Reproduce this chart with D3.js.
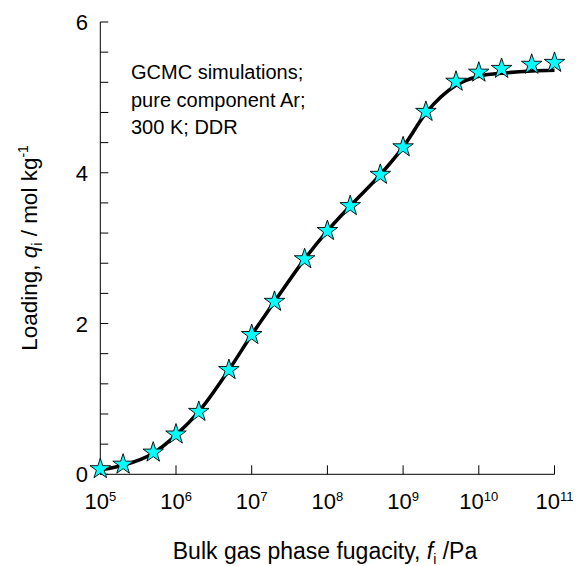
<!DOCTYPE html>
<html>
<head>
<meta charset="utf-8">
<script src="https://cdn.jsdelivr.net/npm/d3@7"></script>
<style>
  html, body { margin: 0; padding: 0; background: #fff; }
  svg { display: block; }
  text { font-family: "Liberation Sans", Arial, sans-serif; fill: #000; }
</style>
</head>
<body>
<svg id="chart" width="578" height="566"></svg>
<script>
// ---- data ----
const fugacity = [1e5, 2e5, 5e5, 1e6, 2e6, 5e6, 1e7, 2e7, 5e7, 1e8, 2e8, 5e8, 1e9, 2e9, 5e9, 1e10, 2e10, 5e10, 1e11];
const loadingGCMC = [0.07, 0.13, 0.29, 0.53, 0.83, 1.385, 1.85, 2.29, 2.855, 3.23, 3.56, 3.975, 4.34, 4.81, 5.21, 5.33, 5.38, 5.435, 5.46];
const loadingFit = [0.06, 0.12, 0.28, 0.52, 0.83, 1.385, 1.85, 2.29, 2.855, 3.23, 3.56, 3.975, 4.34, 4.79, 5.16, 5.28, 5.32, 5.35, 5.36];
const xTickExps = [5, 6, 7, 8, 9, 10, 11];
const yMajorTicks = [0, 2, 4, 6];
const yMinorTicks = d3.range(0, 6.0001, 0.4);
const annotation = ["GCMC simulations;", "pure component Ar;", "300 K; DDR"];

// ---- layout ----
const svg = d3.select("#chart");
const pL = 100.3, pR = 554.5, pT = 22, pB = 474.3;
const x = d3.scaleLog().domain([1e5, 1e11]).range([pL, pR]);
const y = d3.scaleLinear().domain([0, 6]).range([pB, pT]);

// axes lines
svg.append("line").attr("x1", pL).attr("x2", pL).attr("y1", pT).attr("y2", pB)
  .attr("stroke", "#000").attr("stroke-width", 1);
svg.append("line").attr("x1", pL).attr("x2", pR).attr("y1", pB).attr("y2", pB)
  .attr("stroke", "#000").attr("stroke-width", 1);

// y ticks (inward)
svg.append("g").selectAll("line").data(yMinorTicks).join("line")
  .attr("x1", pL).attr("x2", pL + 8)
  .attr("y1", d => y(d)).attr("y2", d => y(d))
  .attr("stroke", "#000").attr("stroke-width", 1);
svg.append("g").selectAll("text").data(yMajorTicks).join("text")
  .attr("x", 88).attr("y", d => y(d) + 8)
  .attr("text-anchor", "end").style("font-size", "22px")
  .text(d => d);

// x ticks (inward)
svg.append("g").selectAll("line").data(xTickExps).join("line")
  .attr("x1", d => x(Math.pow(10, d))).attr("x2", d => x(Math.pow(10, d)))
  .attr("y1", pB).attr("y2", pB - 9)
  .attr("stroke", "#000").attr("stroke-width", 1);
const xl = svg.append("g").selectAll("text").data(xTickExps).join("text")
  .attr("x", d => x(Math.pow(10, d))).attr("y", 508.5)
  .attr("text-anchor", "middle")
  .style("font-size", "22px");
xl.append("tspan").text("10");
xl.append("tspan").attr("dy", -7.6).style("font-size", "13px").text(d => d);

// fit curve
const line = d3.line()
  .x((d, i) => x(fugacity[i]))
  .y(d => y(d))
  .curve(d3.curveMonotoneX);
svg.append("path").datum(loadingFit)
  .attr("d", line).attr("fill", "none")
  .attr("stroke", "#000").attr("stroke-width", 3.5);

// stars
const star = d3.symbol().type(d3.symbolStar).size(131);
svg.append("g").selectAll("path").data(loadingGCMC).join("path")
  .attr("d", star)
  .attr("transform", (d, i) => `translate(${x(fugacity[i])},${y(d)})`)
  .attr("fill", "#00ffff").attr("stroke", "#000").attr("stroke-width", 0.9);

// annotation
svg.append("g").selectAll("text").data(annotation).join("text")
  .attr("x", 131).attr("y", (d, i) => 79 + i * 27.5)
  .style("font-size", "20px").text(d => d);

// x title
const xt = svg.append("text").attr("x", 325).attr("y", 559)
  .attr("text-anchor", "middle").style("font-size", "23px");
xt.append("tspan").text("Bulk gas phase fugacity, ");
xt.append("tspan").style("font-style", "italic").text("f");
xt.append("tspan").attr("dy", 5).style("font-size", "14px").text("i");
xt.append("tspan").attr("dy", -5).text(" /Pa");

// y title
const yt = svg.append("text")
  .attr("transform", "translate(37,248) rotate(-90)")
  .attr("text-anchor", "middle").style("font-size", "22.5px");
yt.append("tspan").text("Loading, ");
yt.append("tspan").style("font-style", "italic").text("q");
yt.append("tspan").attr("dy", 5).style("font-size", "14px").text("i");
yt.append("tspan").attr("dy", -5).text(" / mol kg");
yt.append("tspan").attr("dy", -9).style("font-size", "14px").text("-1");
</script>
</body>
</html>
